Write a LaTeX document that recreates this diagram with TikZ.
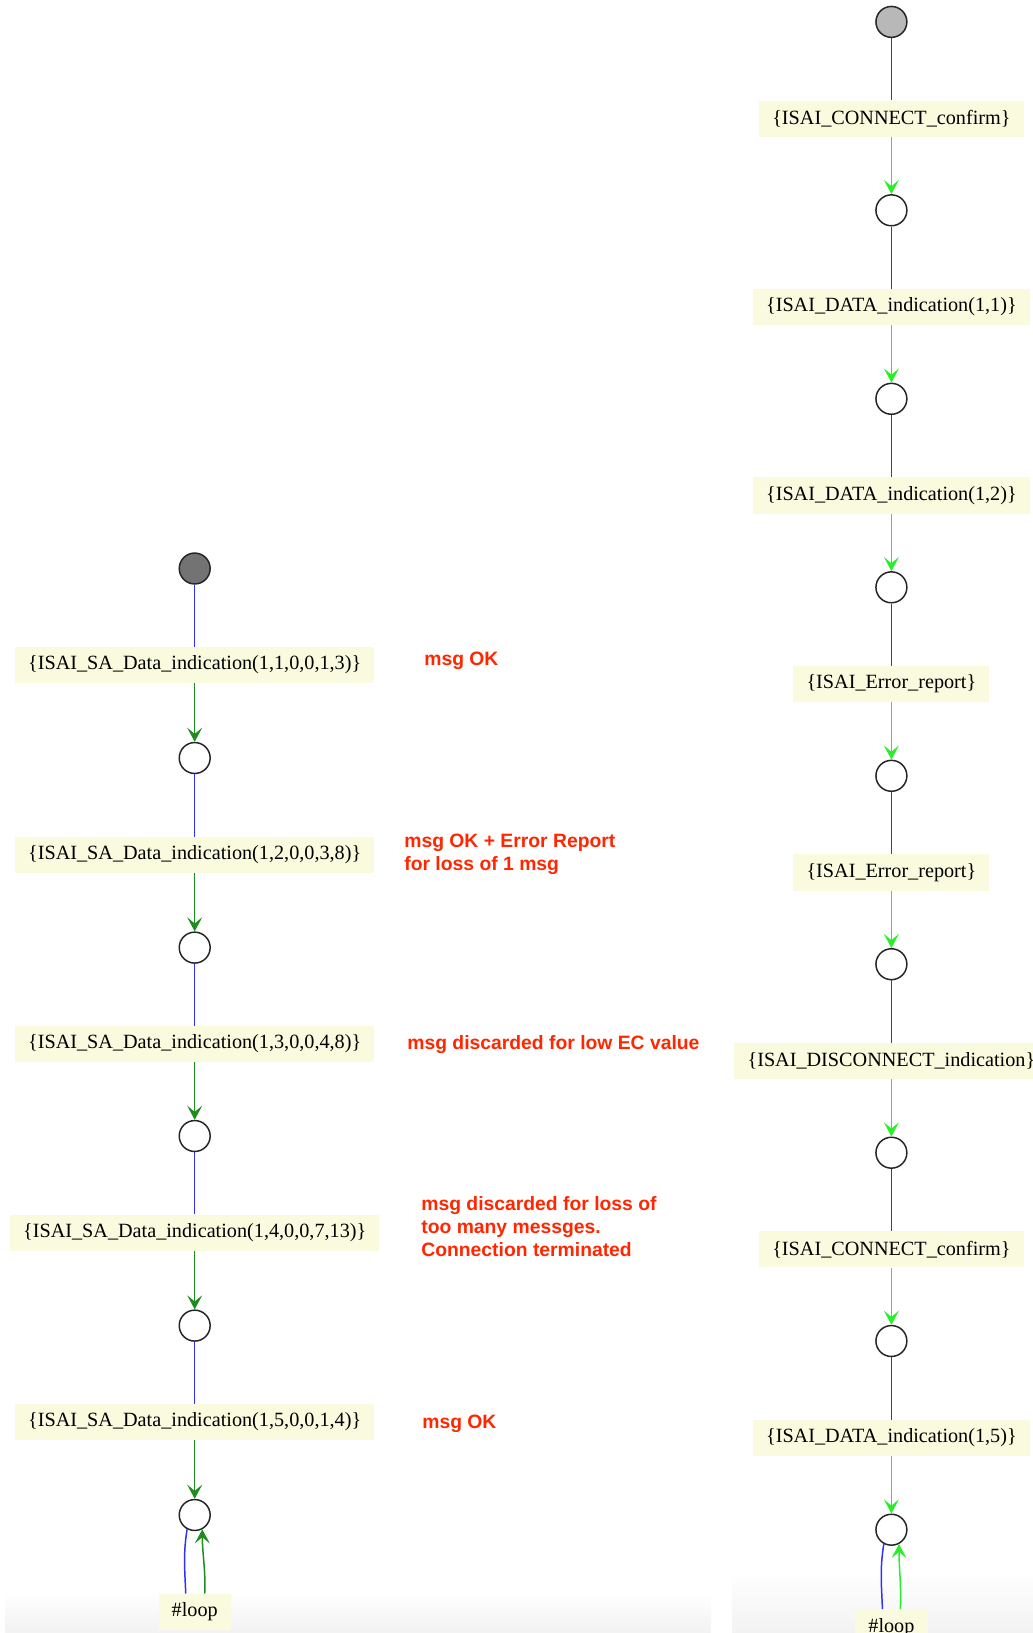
\documentclass[tikz,border=0pt]{standalone}
\usepackage{fontspec}
\setmainfont{Liberation Serif}
\newfontfamily\notefont{Liberation Sans}
\usetikzlibrary{arrows.meta}

\definecolor{labelbg}{RGB}{250,250,222}
\definecolor{edgeblue}{RGB}{48,48,255}
\definecolor{darkgreen}{RGB}{30,140,30}
\definecolor{limegreen}{RGB}{40,240,40}
\definecolor{notered}{RGB}{255,38,0}

\begin{document}
\begin{tikzpicture}[x=0.02cm, y=-0.02cm,
  state/.style={draw=black!85, circle, line width=0.85pt, minimum size=17.6pt, inner sep=0pt},
  trans/.style={fill=labelbg, yshift=-1.7pt, font=\fontsize{11.5}{13}\selectfont, inner xsep=7.5pt, inner ysep=0pt, minimum height=20.5pt},
  note/.style={anchor=west, align=left, inner sep=0pt, yshift=-1.7pt, text=notered, font=\notefont\bfseries\fontsize{11}{13}\selectfont},
  link/.style={line width=0.85pt, draw=edgeblue},
  fire/.style={line width=0.85pt, -{Stealth[length=8pt,width=8.5pt,inset=3.5pt]}}]
\useasboundingbox (0,0) rectangle (1033,1633);
\shade[top color=white, bottom color=black!5] (5,1592) rectangle (711,1633);
\shade[top color=white, bottom color=black!5] (732,1572) rectangle (1033,1633);

% left run
\node[state, fill=black!55] (ls0) at (194.7,568.5) {};
\node[trans] (la1) at (194.7,662) {\{ISAI\_SA\_Data\_indication(1,1,0,0,1,3)\}};
\node[state] (ls1) at (194.7,758) {};
\node[trans] (la2) at (194.7,852) {\{ISAI\_SA\_Data\_indication(1,2,0,0,3,8)\}};
\node[state] (ls2) at (194.7,947.6) {};
\node[trans] (la3) at (194.7,1041) {\{ISAI\_SA\_Data\_indication(1,3,0,0,4,8)\}};
\node[state] (ls3) at (194.7,1136) {};
\node[trans] (la4) at (194.7,1229.8) {\{ISAI\_SA\_Data\_indication(1,4,0,0,7,13)\}};
\node[state] (ls4) at (194.7,1325.6) {};
\node[trans] (la5) at (194.7,1419) {\{ISAI\_SA\_Data\_indication(1,5,0,0,1,4)\}};
\node[state] (ls5) at (194.7,1515) {};
\node[trans] (lloop) at (194.7,1609) {\#loop};

\path[link] (ls0) -- (la1);
\path[link] (ls1) -- (la2);
\path[link] (ls2) -- (la3);
\path[link] (ls3) -- (la4);
\path[link] (ls4) -- (la5);
\draw[fire, darkgreen] (la1) -- (ls1);
\draw[fire, darkgreen] (la2) -- (ls2);
\draw[fire, darkgreen] (la3) -- (ls3);
\draw[fire, darkgreen] (la4) -- (ls4);
\draw[fire, darkgreen] (la5) -- (ls5);
\path[link] (ls5.-118) .. controls +(-4,25) and +(-1,-25) .. ([xshift=-5.1pt]lloop.north);
\draw[fire, darkgreen] ([xshift=5.7pt]lloop.north) .. controls +(1,-25) and +(0,25) .. (ls5.-62);

% comments on the left run
\node[note] (n1) at (424,658) {msg OK};
\node[note] (n2) at (404,851) {msg OK + Error Report\\for loss of 1 msg};
\node[note] (n3) at (407,1042) {msg discarded for low EC value};
\node[note] (n4) at (421,1223.5) {msg discarded for loss of\\too many messges.\\Connection terminated};
\node[note] (n5) at (422,1421) {msg OK};

% right run
\node[state, fill=black!28] (rs0) at (891.4,21.9) {};
\node[trans] (ra1) at (891.4,115.6) {\{ISAI\_CONNECT\_confirm\}};
\node[state] (rs1) at (891.4,210.3) {};
\node[trans] (ra2) at (891.4,304) {\{ISAI\_DATA\_indication(1,1)\}};
\node[state] (rs2) at (891.4,398.8) {};
\node[trans] (ra3) at (891.4,492.5) {\{ISAI\_DATA\_indication(1,2)\}};
\node[state] (rs3) at (891.4,587.3) {};
\node[trans] (ra4) at (891.4,681) {\{ISAI\_Error\_report\}};
\node[state] (rs4) at (891.4,775.8) {};
\node[trans] (ra5) at (891.4,869.5) {\{ISAI\_Error\_report\}};
\node[state] (rs5) at (891.4,964.2) {};
\node[trans] (ra6) at (891.4,1058) {\{ISAI\_DISCONNECT\_indication\}};
\node[state] (rs6) at (891.4,1152.7) {};
\node[trans] (ra7) at (891.4,1246.4) {\{ISAI\_CONNECT\_confirm\}};
\node[state] (rs7) at (891.4,1341) {};
\node[trans] (ra8) at (891.4,1435) {\{ISAI\_DATA\_indication(1,5)\}};
\node[state] (rs8) at (891.4,1529.7) {};
\node[trans] (rloop) at (891.4,1624.5) {\#loop};

\path[link] (rs0) -- (ra1);
\path[link] (rs1) -- (ra2);
\path[link] (rs2) -- (ra3);
\path[link] (rs3) -- (ra4);
\path[link] (rs4) -- (ra5);
\path[link] (rs5) -- (ra6);
\path[link] (rs6) -- (ra7);
\path[link] (rs7) -- (ra8);
\draw[fire, limegreen] (ra1) -- (rs1);
\draw[fire, limegreen] (ra2) -- (rs2);
\draw[fire, limegreen] (ra3) -- (rs3);
\draw[fire, limegreen] (ra4) -- (rs4);
\draw[fire, limegreen] (ra5) -- (rs5);
\draw[fire, limegreen] (ra6) -- (rs6);
\draw[fire, limegreen] (ra7) -- (rs7);
\draw[fire, limegreen] (ra8) -- (rs8);
\path[link] (rs8.-118) .. controls +(-4,25) and +(-1,-25) .. ([xshift=-5.1pt]rloop.north);
\draw[fire, limegreen] ([xshift=5.1pt]rloop.north) .. controls +(1,-25) and +(0,25) .. (rs8.-62);
\end{tikzpicture}
\end{document}
